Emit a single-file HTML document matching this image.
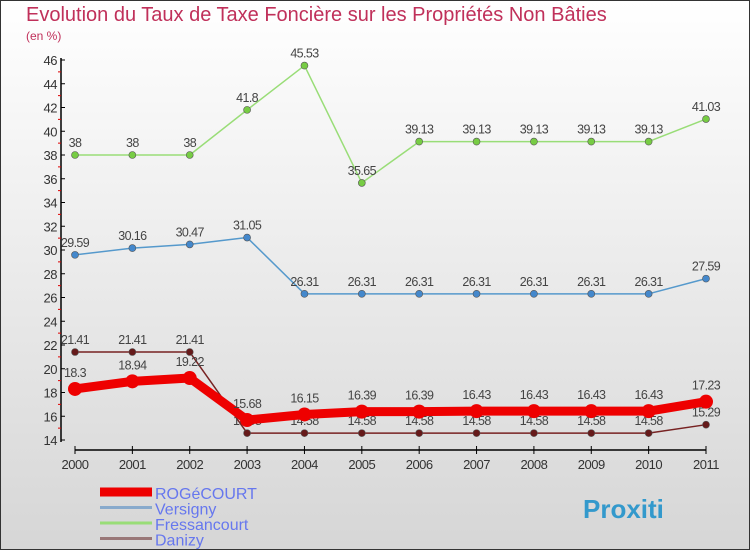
<!DOCTYPE html>
<html><head><meta charset="utf-8"><style>
body{margin:0}
#c{width:750px;height:550px;position:relative;overflow:hidden;box-sizing:border-box;border:1px solid #333;background:linear-gradient(#ffffff,#d6d6d6);font-family:"Liberation Sans",sans-serif}
</style></head><body>
<div id="c">
<svg id="s" width="750" height="550" style="position:absolute;left:-1px;top:-1px">
<text x="26" y="21" font-size="20" fill="#c0305a">Evolution du Taux de Taxe Foncière sur les Propriétés Non Bâties</text>
<text x="26" y="40" font-size="12" fill="#c0305a">(en %)</text>
</svg>
</div>
<script>
const years=["2000","2001","2002","2003","2004","2005","2006","2007","2008","2009","2010","2011"];
const yTicks=[14,16,18,20,22,24,26,28,30,32,34,36,38,40,42,44,46];
const rogecourt=[18.3,18.94,19.22,15.68,16.15,16.39,16.39,16.43,16.43,16.43,16.43,17.23];
const versigny=[29.59,30.16,30.47,31.05,26.31,26.31,26.31,26.31,26.31,26.31,26.31,27.59];
const fressancourt=[38,38,38,41.8,45.53,35.65,39.13,39.13,39.13,39.13,39.13,41.03];
const danizy=[21.41,21.41,21.41,14.58,14.58,14.58,14.58,14.58,14.58,14.58,14.58,15.29];
const NS="http://www.w3.org/2000/svg";
const svg=document.getElementById('s');
function X(i){return 75+i*(706-75)/11;}
function Y(v){return 440-(v-14)*380/32;}
function el(t,a,p){const e=document.createElementNS(NS,t);for(const k in a)e.setAttribute(k,a[k]);(p||svg).appendChild(e);return e;}
let ax=el('line',{x1:61,y1:58,x2:61,y2:442,stroke:'#000','stroke-width':1.5});


let xax=el('line',{x1:75,y1:450,x2:706,y2:450,stroke:'#000','stroke-width':1.5});


yTicks.forEach(v=>{
 el('line',{x1:61,y1:Y(v),x2:65,y2:Y(v),stroke:'#000'});
 if(v<46) el('line',{x1:58,y1:Y(v+1),x2:61,y2:Y(v+1),stroke:'#d00'});
 const t=el('text',{x:57,y:Y(v)+5,'font-size':13,fill:'#333','text-anchor':'end','letter-spacing':'-0.5'});
 t.textContent=v;
 
 
});
years.forEach((y,i)=>{
 el('line',{x1:X(i),y1:446,x2:X(i),y2:454,stroke:'#000'});
 const t=el('text',{x:X(i),y:469,'font-size':13,fill:'#333','text-anchor':'middle','letter-spacing':'-0.5'});
 t.textContent=y;
 
 
});
function series(data,color,w,r,name,ptColor){
 const g=el('g',{});
 
 
 const pl=el('polyline',{points:data.map((v,i)=>X(i)+','+Y(v)).join(' '),fill:'none',stroke:color,'stroke-width':w,'stroke-linejoin':'round'},g);
 
 
 data.forEach((v,i)=>{
  const c=el('circle',{cx:X(i),cy:Y(v),r:r,fill:ptColor,stroke:'#555','stroke-width':r>5?0:0.6},g);
  
  
  const t=el('text',{x:X(i),y:Y(v)-(r>5?12:8),'font-size':12.5,fill:'#444','text-anchor':'middle','letter-spacing':'-0.6'},g);
  t.textContent=v;
  
  
 });
}
series(fressancourt,'#99dd77',1.5,3.5,'fressancourt','#77cc44');
series(versigny,'#5599cc',1.5,3.5,'versigny','#4488cc');
series(danizy,'#772222',1.5,3.5,'danizy','#661a1a');
series(rogecourt,'#ee0000',9,7,'rogecourt','#ee0000');
const leg=[["ROGéCOURT","#ee0000",9],["Versigny","#88aacc",3],["Fressancourt","#99dd77",3],["Danizy","#997777",3]];
leg.forEach((l,i)=>{
 const y=492+i*15.5;
 const g=el('g',{});
 
 
 el('line',{x1:100,y1:y,x2:152,y2:y,stroke:l[1],'stroke-width':l[2]},g);
 const t=el('text',{x:155,y:y+7,'font-size':16,fill:'#6677ee'},g);
 t.textContent=l[0];
});
const lg=el('text',{x:583,y:518,'font-size':26,'font-weight':'bold',fill:'#3399cc'});
lg.textContent='Proxiti';


</script>
</body></html>
